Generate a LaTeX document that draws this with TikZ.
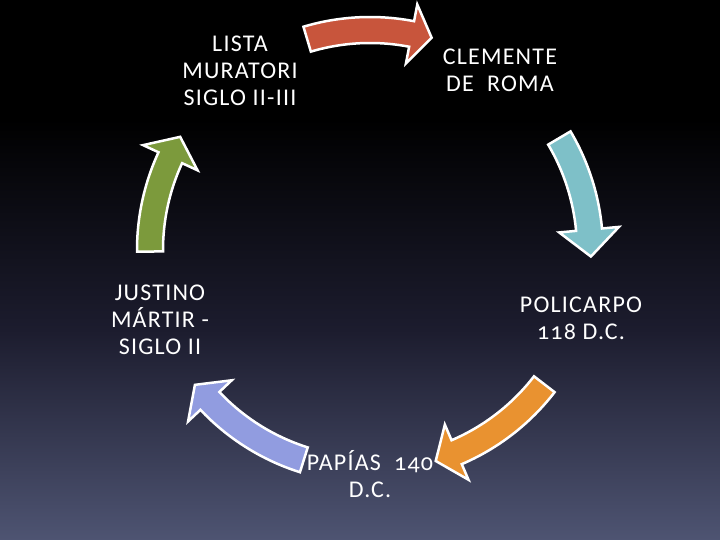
\documentclass[tikz,border=0pt]{standalone}
\usepackage{fontspec}
\setmainfont[Numbers=OldStyle, LetterSpace=5]{Carlito}
\definecolor{bgbot}{RGB}{78,84,114}
\definecolor{bgmid}{RGB}{28,28,46}
\definecolor{cred}{RGB}{200,85,60}
\definecolor{cteal}{RGB}{126,192,200}
\definecolor{corange}{RGB}{233,146,48}
\definecolor{clav}{RGB}{145,156,224}
\definecolor{cgreen}{RGB}{124,154,60}
\newcommand\cyclearrow[4]{%
  \filldraw[blk, fill=#1] (#2:233) arc[start angle=#2, end angle=#3, radius=233]
    -- (#3:250) -- (#4:221) -- (#3:190) -- (#3:207)
    arc[start angle=#3, end angle=#2, radius=207] -- cycle;}
\begin{document}
\begin{tikzpicture}[x=1pt,y=1pt,
  lbl/.style={text=white, align=center, inner sep=0pt, font=\fontsize{24}{27}\selectfont},
  blk/.style={draw=white, line width=2.5pt, line join=miter}]
\useasboundingbox (0,0) rectangle (720,540);
\fill[black] (0,420) rectangle (720,540);
\shade[top color=black, bottom color=bgbot, middle color=bgmid] (0,0) rectangle (720,421);
% labels
\node[lbl] (lista) at (240,469) {LISTA\\MURATORI\\SIGLO II-III};
\node[lbl] (clemente) at (500,470) {CLEMENTE\\DE\ \ ROMA};
\node[lbl] (policarpo) at (581,222) {POLICARPO\\118 D.C.};
\node[lbl] (papias) at (370,66) {PAPÍAS\ \ 140\\D.C.};
\node[lbl] (justino) at (160,220) {JUSTINO\\MÁRTIR -\\SIGLO II};
% arrows
\begin{scope}[shift={(370,290)}]
\cyclearrow{cred}{106.6}{79.1}{73.8}
\cyclearrow{cteal}{30.6}{5.3}{-1.7}
\cyclearrow{corange}{-37.6}{-66.8}{-72.7}
\cyclearrow{clav}{-107.5}{-136.7}{-142.4}
\cyclearrow{cgreen}{180.4}{155.2}{149.2}
\end{scope}
\end{tikzpicture}
\end{document}
